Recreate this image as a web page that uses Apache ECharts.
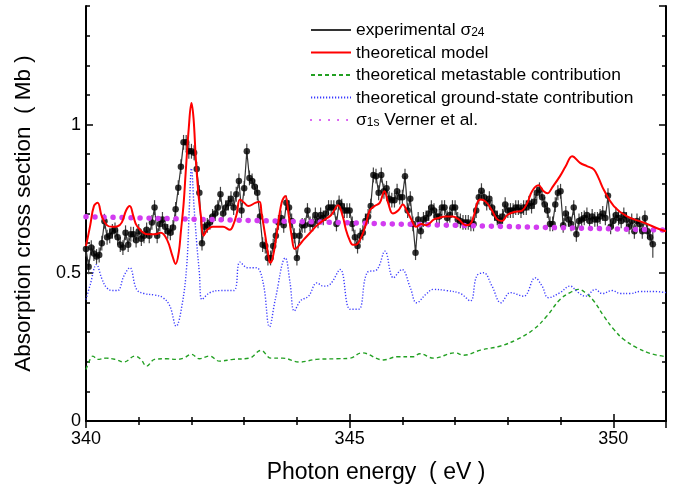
<!DOCTYPE html>
<html>
<head>
<meta charset="utf-8">
<script src="https://cdn.jsdelivr.net/npm/echarts@6.0.0/dist/echarts.min.js"></script>
<style>
  html, body { margin: 0; padding: 0; background: #fff; }
  #chart { width: 677px; height: 489px; }
</style>
</head>
<body>
<div id="chart"></div>
<script>
// experimental sigma_24, sampled every 0.05 eV from 340.00 eV
const expStart = 340;
const expStep = 0.05;
const expY = [
  0.58, 0.52, 0.585, 0.565, 0.555, 0.56, 0.60, 0.674, 0.62, 0.625, 0.64, 0.645, 0.62, 0.595, 0.585, 0.635, 0.595, 0.63, 0.63, 0.61,
  0.64, 0.615, 0.625, 0.645, 0.625, 0.67, 0.72, 0.625, 0.665, 0.68, 0.655, 0.64, 0.635, 0.653, 0.714, 0.787, 0.858, 0.94, 0.94, 0.91,
  0.91, 0.905, 0.85, 0.77, 0.60, 0.655, 0.66, 0.67, 0.69, 0.70, 0.72, 0.765, 0.70, 0.72, 0.735, 0.75, 0.72, 0.765, 0.81, 0.71,
  0.785, 0.91, 0.82, 0.81, 0.79, 0.77, 0.69, 0.595, 0.59, 0.55, 0.55, 0.59, 0.625, 0.67, 0.685, 0.66, 0.736, 0.72, 0.675, 0.625,
  0.55, 0.625, 0.66, 0.66, 0.71, 0.665, 0.665, 0.695, 0.675, 0.695, 0.685, 0.70, 0.72, 0.72, 0.72, 0.665, 0.736, 0.725, 0.71, 0.71,
  0.71, 0.665, 0.62, 0.59, 0.625, 0.635, 0.675, 0.69, 0.725, 0.83, 0.826, 0.77, 0.83, 0.775, 0.785, 0.75, 0.745, 0.745, 0.775, 0.755,
  0.755, 0.826, 0.71, 0.75, 0.665, 0.568, 0.68, 0.64, 0.68, 0.685, 0.70, 0.72, 0.71, 0.69, 0.69, 0.72, 0.72, 0.685, 0.695, 0.72,
  0.72, 0.68, 0.675, 0.67, 0.67, 0.67, 0.665, 0.665, 0.71, 0.755, 0.777, 0.755, 0.735, 0.75, 0.72, 0.70, 0.685, 0.675, 0.69, 0.73,
  0.71, 0.71, 0.71, 0.72, 0.72, 0.71, 0.72, 0.72, 0.735, 0.725, 0.74, 0.77, 0.78, 0.755, 0.73, 0.71, 0.665, 0.665, 0.73, 0.77,
  0.775, 0.66, 0.70, 0.68, 0.665, 0.72, 0.63, 0.675, 0.68, 0.685, 0.695, 0.675, 0.69, 0.68, 0.68, 0.69, 0.70, 0.685, 0.76, 0.655,
  0.675, 0.695, 0.685, 0.675, 0.695, 0.68, 0.655, 0.675, 0.64, 0.675, 0.665, 0.64, 0.685, 0.64, 0.62, 0.596
];
const expErr = 0.025;
const expErrLast = 0.045;

// theoretical model [eV, Mb]
const modelPts = [
  [340.00, 0.59], [340.08, 0.66], [340.15, 0.725], [340.22, 0.736], [340.30, 0.69], [340.40, 0.66],
  [340.50, 0.655], [340.60, 0.657], [340.68, 0.67], [340.76, 0.71], [340.83, 0.725], [340.90, 0.69],
  [340.97, 0.657], [341.16, 0.63], [341.30, 0.63], [341.42, 0.635], [341.54, 0.61], [341.64, 0.556],
  [341.70, 0.53], [341.76, 0.57], [341.80, 0.64], [341.85, 0.73], [341.89, 0.837], [341.95, 0.99],
  [342.00, 1.073], [342.04, 1.02], [342.08, 0.893], [342.13, 0.77], [342.18, 0.69], [342.23, 0.625],
  [342.30, 0.645], [342.40, 0.655], [342.50, 0.655], [342.60, 0.655], [342.73, 0.645], [342.79, 0.66],
  [342.86, 0.70], [342.92, 0.747], [343.00, 0.736], [343.08, 0.725], [343.21, 0.736], [343.29, 0.74],
  [343.33, 0.70], [343.40, 0.625], [343.46, 0.556], [343.49, 0.534], [343.54, 0.55], [343.62, 0.635],
  [343.71, 0.736], [343.78, 0.759], [343.84, 0.70], [343.90, 0.625], [343.96, 0.58], [344.03, 0.59],
  [344.12, 0.61], [344.25, 0.635], [344.38, 0.66], [344.49, 0.675], [344.65, 0.695], [344.78, 0.728],
  [344.87, 0.69], [344.93, 0.645], [345.00, 0.61], [345.06, 0.595], [345.12, 0.595], [345.22, 0.62],
  [345.31, 0.665], [345.38, 0.71], [345.47, 0.725], [345.57, 0.736], [345.66, 0.775], [345.73, 0.736],
  [345.82, 0.70], [345.92, 0.71], [346.01, 0.73], [346.08, 0.71], [346.17, 0.68], [346.26, 0.655],
  [346.36, 0.665], [346.45, 0.66], [346.60, 0.68], [346.69, 0.685], [346.82, 0.69], [346.95, 0.69],
  [347.07, 0.68], [347.20, 0.66], [347.29, 0.665], [347.36, 0.695], [347.42, 0.736], [347.48, 0.747],
  [347.58, 0.74], [347.70, 0.71], [347.80, 0.68], [347.89, 0.675], [347.99, 0.695], [348.12, 0.705],
  [348.27, 0.71], [348.37, 0.736], [348.46, 0.775], [348.58, 0.795], [348.68, 0.775], [348.75, 0.768],
  [348.85, 0.79], [348.99, 0.826], [349.10, 0.86], [349.22, 0.893], [349.37, 0.871], [349.50, 0.86],
  [349.63, 0.849], [349.72, 0.82], [349.82, 0.78], [350.01, 0.725], [350.26, 0.69], [350.58, 0.669],
  [350.89, 0.646], [351.00, 0.64]
];

// theoretical metastable contribution
const metaPts = [
  [340.00, 0.174], [340.07, 0.205], [340.13, 0.219], [340.22, 0.208], [340.38, 0.212], [340.55, 0.208],
  [340.72, 0.199], [340.93, 0.219], [341.04, 0.208], [341.15, 0.185], [341.30, 0.208], [341.53, 0.21],
  [341.72, 0.208], [341.85, 0.212], [342.00, 0.225], [342.15, 0.21], [342.34, 0.219], [342.53, 0.202],
  [342.79, 0.208], [343.10, 0.212], [343.32, 0.238], [343.51, 0.212], [343.73, 0.212], [344.05, 0.199],
  [344.37, 0.208], [344.75, 0.21], [345.01, 0.212], [345.23, 0.23], [345.64, 0.206], [345.90, 0.217],
  [346.21, 0.217], [346.33, 0.227], [346.59, 0.212], [347.00, 0.23], [347.16, 0.222], [347.48, 0.239],
  [347.86, 0.253], [348.17, 0.275], [348.49, 0.309], [348.74, 0.354], [348.99, 0.41], [349.18, 0.433],
  [349.34, 0.444], [349.47, 0.433], [349.63, 0.405], [349.82, 0.354], [350.01, 0.309], [350.20, 0.275],
  [350.45, 0.247], [350.70, 0.228], [350.99, 0.217]
];

// theoretical ground-state contribution
const groundPts = [
  [340.00, 0.41], [340.08, 0.46], [340.20, 0.528], [340.30, 0.48], [340.39, 0.45], [340.50, 0.44],
  [340.60, 0.44], [340.72, 0.49], [340.83, 0.517], [340.96, 0.444], [341.10, 0.43], [341.30, 0.425],
  [341.46, 0.416], [341.59, 0.388], [341.71, 0.32], [341.82, 0.39], [341.91, 0.523], [341.96, 0.72],
  [342.00, 0.852], [342.05, 0.72], [342.10, 0.60], [342.15, 0.50], [342.20, 0.41], [342.35, 0.433],
  [342.55, 0.44], [342.80, 0.44], [342.92, 0.536], [343.07, 0.517], [343.23, 0.517], [343.36, 0.466],
  [343.48, 0.318], [343.59, 0.41], [343.78, 0.55], [343.87, 0.466], [343.95, 0.371], [344.07, 0.406],
  [344.22, 0.421], [344.38, 0.466], [344.50, 0.455], [344.63, 0.461], [344.82, 0.511], [345.01, 0.377],
  [345.17, 0.377], [345.33, 0.50], [345.52, 0.511], [345.67, 0.573], [345.83, 0.483], [345.99, 0.511],
  [346.15, 0.45], [346.27, 0.399], [346.46, 0.43], [346.59, 0.444], [346.84, 0.44], [347.10, 0.43],
  [347.29, 0.405], [347.41, 0.489], [347.54, 0.50], [347.70, 0.455], [347.87, 0.399], [348.05, 0.433],
  [348.30, 0.421], [348.52, 0.483], [348.65, 0.455], [348.77, 0.416], [348.99, 0.433], [349.18, 0.455],
  [349.34, 0.433], [349.47, 0.421], [349.66, 0.444], [349.79, 0.43], [349.98, 0.44], [350.13, 0.43],
  [350.32, 0.43], [350.51, 0.437], [350.77, 0.437], [351.00, 0.433]
];

// sigma_1s, Verner et al.
const vernerPts = [
  [340, 0.689], [342, 0.681], [344, 0.673], [346, 0.664], [348, 0.656], [350, 0.648], [351, 0.644]
];

const xMin = 340, xMax = 351, xMajor = 5, xMinor = 1;
const yMin = 0, yMax = 1.4, yMajor = 0.5, yMinor = 0.1;

const legendText = {
  "exp": "{t|experimental σ}{s|24}",
  "model": "{t|theoretical model}",
  "meta": "{t|theoretical metastable contribution}",
  "ground": "{t|theoretical ground-state contribution}",
  "verner": "{t|σ}{s|1s}{t| Verner et al.}"
};

const expData = expY.map((v, i) => [+(expStart + i * expStep).toFixed(2), v]);
const errData = expData.map((d, i) => [d[0], d[1], i === expData.length - 1 ? expErrLast : expErr]);

const font = "'Liberation Sans', Arial, sans-serif";
const chart = echarts.init(document.getElementById("chart"), null, { renderer: "canvas" });

function xAxisDef(pos, interval, len, labels) {
  return {
    type: "value",
    position: pos,
    min: xMin,
    max: xMax,
    interval: interval,
    axisLine: { show: labels, lineStyle: { color: "#000", width: 2 } },
    axisTick: { show: true, inside: true, length: len, lineStyle: { color: "#000", width: 1.5 } },
    axisLabel: {
      show: labels && pos === "bottom",
      showMaxLabel: false,
      margin: 9,
      fontSize: 18,
      color: "#000",
      fontFamily: font
    },
    splitLine: { show: false }
  };
}
function yAxisDef(pos, interval, len, labels) {
  return {
    type: "value",
    position: pos,
    min: yMin,
    max: yMax,
    interval: interval,
    axisLine: { show: labels, lineStyle: { color: "#000", width: 2 } },
    axisTick: { show: true, inside: true, length: len, lineStyle: { color: "#000", width: 1.5 } },
    axisLabel: {
      show: labels && pos === "left",
      showMaxLabel: false,
      margin: 5,
      fontSize: 18,
      color: "#000",
      fontFamily: font
    },
    splitLine: { show: false }
  };
}

const xBottom = xAxisDef("bottom", xMajor, 7, true);
xBottom.name = "Photon energy  ( eV )";
xBottom.nameLocation = "middle";
xBottom.nameGap = 40;
xBottom.nameTextStyle = { fontSize: 23, color: "#000", fontFamily: font };

const yLeft = yAxisDef("left", yMajor, 7, true);
yLeft.name = "Absorption cross section  ( Mb )";
yLeft.nameLocation = "middle";
yLeft.nameGap = 51;
yLeft.nameTextStyle = { fontSize: 22.5, color: "#000", fontFamily: font };

const option = {
  animation: false,
  backgroundColor: "#fff",
  grid: { left: 86, right: 11, top: 6, bottom: 67 },
  legend: {
    orient: "vertical",
    left: 310,
    top: 22,
    padding: 0,
    itemWidth: 40,
    itemHeight: 14,
    itemGap: 5.5,
    selectedMode: false,
    itemStyle: { opacity: 0 },
    data: ["exp", "model", "meta", "ground", "verner"],
    formatter: function (name) { return legendText[name]; },
    textStyle: {
      fontFamily: font,
      color: "#000",
      rich: {
        t: { fontSize: 17.4, fontFamily: font, color: "#000", lineHeight: 18, verticalAlign: "bottom" },
        s: { fontSize: 12, fontFamily: font, color: "#000", lineHeight: 12, verticalAlign: "bottom" }
      }
    }
  },
  xAxis: [
    xBottom,
    xAxisDef("bottom", xMinor, 4, false),
    xAxisDef("top", xMajor, 7, true),
    xAxisDef("top", xMinor, 4, false)
  ],
  yAxis: [
    yLeft,
    yAxisDef("left", yMinor, 4, false),
    yAxisDef("right", yMajor, 7, true),
    yAxisDef("right", yMinor, 4, false)
  ],
  series: [
    {
      name: "errbars",
      type: "custom",
      silent: true,
      z: 3,
      data: errData,
      renderItem: function (params, api) {
        const x = api.value(0), y = api.value(1), e = api.value(2);
        const p1 = api.coord([x, y + e]);
        const p2 = api.coord([x, y - e]);
        return {
          type: "line",
          shape: { x1: p1[0], y1: p1[1], x2: p2[0], y2: p2[1] },
          style: { stroke: "#444", lineWidth: 1.2 }
        };
      }
    },
    {
      name: "meta",
      type: "line",
      data: metaPts,
      smooth: 0.4,
      symbol: "none",
      z: 2,
      lineStyle: { color: "#22a022", width: 1.4, type: [4, 3] },
      itemStyle: { color: "#22a022" }
    },
    {
      name: "ground",
      type: "line",
      data: groundPts,
      smooth: 0.4,
      symbol: "none",
      z: 2,
      lineStyle: { color: "#3a3aff", width: 1.4, type: [1.2, 1.8] },
      itemStyle: { color: "#3a3aff" }
    },
    {
      name: "exp",
      type: "line",
      data: expData,
      symbol: "none",
      z: 4,
      lineStyle: { color: "#333", width: 1.2 },
      itemStyle: { color: "#333" }
    },
    {
      name: "expdots",
      type: "scatter",
      data: expData,
      symbol: "circle",
      symbolSize: 6.5,
      silent: true,
      z: 5,
      itemStyle: { color: "#000" }
    },
    {
      name: "verner",
      type: "line",
      data: vernerPts,
      symbol: "none",
      z: 6,
      lineStyle: { color: "#d23cf0", width: 5.5, type: [0.01, 9], cap: "round" },
      itemStyle: { color: "#d23cf0" }
    },
    {
      name: "model",
      type: "line",
      data: modelPts,
      smooth: 0.4,
      symbol: "none",
      z: 7,
      lineStyle: { color: "#ff0000", width: 2 },
      itemStyle: { color: "#ff0000" }
    }
  ]
};

chart.setOption(option);
</script>
</body>
</html>
